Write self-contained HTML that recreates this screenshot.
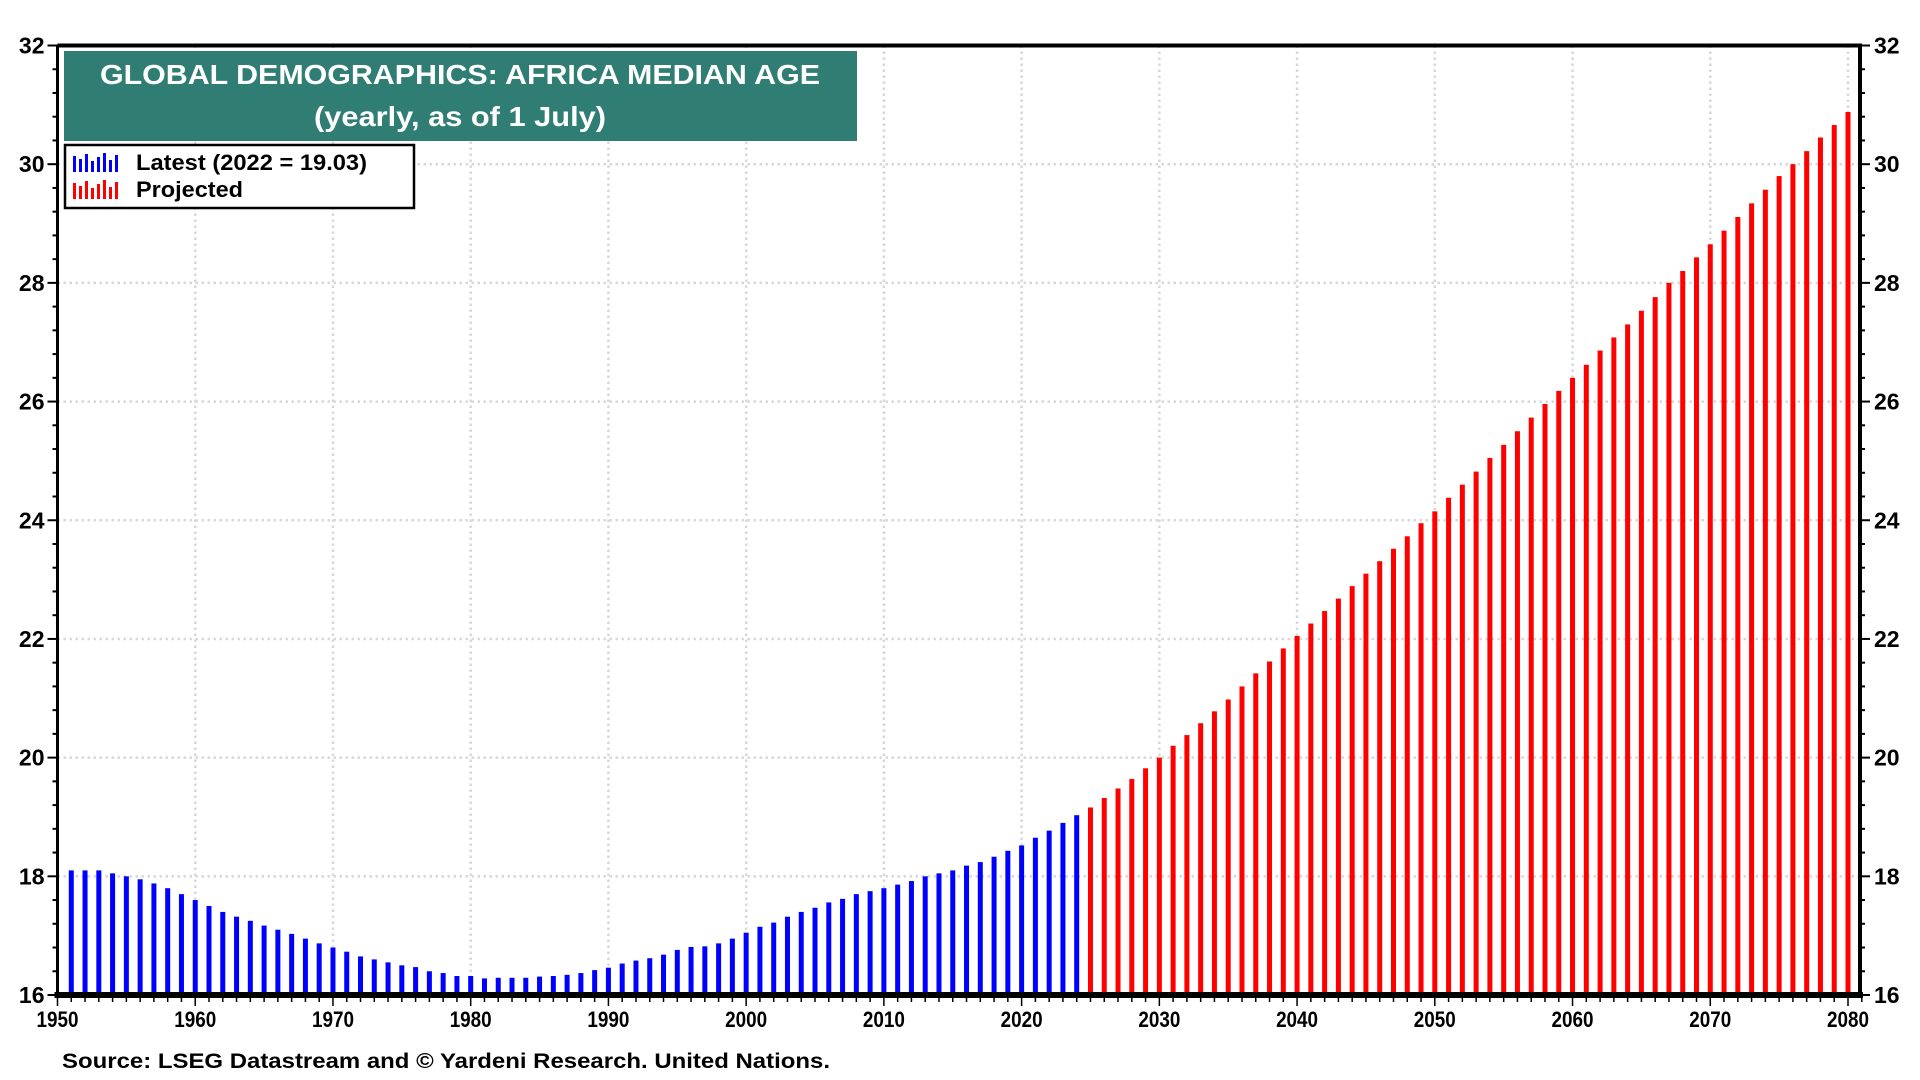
<!DOCTYPE html>
<html><head><meta charset="utf-8"><style>
body{margin:0;background:#fff;}
svg{display:block;font-family:"Liberation Sans",Arial,sans-serif;font-weight:bold;}
</style></head><body>
<svg id="chart" width="1920" height="1080" viewBox="0 0 1920 1080" xmlns="http://www.w3.org/2000/svg">
<g id="grid"></g>
<g id="bars"></g>
<g id="axes"></g>
<rect x="64" y="51" width="793" height="90" fill="#307e73"/>
<text x="460" y="84" font-size="28" fill="#fff" text-anchor="middle" textLength="720" lengthAdjust="spacingAndGlyphs">GLOBAL DEMOGRAPHICS: AFRICA MEDIAN AGE</text>
<text x="460" y="126" font-size="28" fill="#fff" text-anchor="middle" textLength="292" lengthAdjust="spacingAndGlyphs">(yearly, as of 1 July)</text>
<g>
<rect x="65" y="145" width="349" height="63" fill="#fff" stroke="#000" stroke-width="2.5"/>
<g id="legicons"></g>
<text x="136" y="170" font-size="22" textLength="231" lengthAdjust="spacingAndGlyphs">Latest (2022 = 19.03)</text>
<text x="136" y="197" font-size="22" textLength="107" lengthAdjust="spacingAndGlyphs">Projected</text>
</g>
<text x="62" y="1068" font-size="21" textLength="768" lengthAdjust="spacingAndGlyphs">Source: LSEG Datastream and © Yardeni Research. United Nations.</text>
</svg>
<script>
const histYears = [1951,1952,1953,1954,1955,1956,1957,1958,1959,1960,1961,1962,1963,1964,1965,1966,1967,1968,1969,1970,1971,1972,1973,1974,1975,1976,1977,1978,1979,1980,1981,1982,1983,1984,1985,1986,1987,1988,1989,1990,1991,1992,1993,1994,1995,1996,1997,1998,1999,2000,2001,2002,2003,2004,2005,2006,2007,2008,2009,2010,2011,2012,2013,2014,2015,2016,2017,2018,2019,2020,2021,2022,2023,2024];
const histValues = [18.1,18.1,18.1,18.05,18.0,17.95,17.88,17.8,17.7,17.6,17.5,17.4,17.32,17.25,17.17,17.1,17.03,16.95,16.87,16.8,16.73,16.65,16.6,16.55,16.5,16.47,16.4,16.37,16.32,16.32,16.28,16.29,16.29,16.29,16.31,16.32,16.34,16.37,16.42,16.46,16.53,16.58,16.62,16.68,16.76,16.81,16.82,16.87,16.95,17.05,17.15,17.22,17.32,17.4,17.47,17.56,17.62,17.7,17.75,17.8,17.86,17.92,18.0,18.05,18.1,18.18,18.24,18.33,18.43,18.52,18.65,18.77,18.9,19.03];
const projYears = [2025,2026,2027,2028,2029,2030,2031,2032,2033,2034,2035,2036,2037,2038,2039,2040,2041,2042,2043,2044,2045,2046,2047,2048,2049,2050,2051,2052,2053,2054,2055,2056,2057,2058,2059,2060,2061,2062,2063,2064,2065,2066,2067,2068,2069,2070,2071,2072,2073,2074,2075,2076,2077,2078,2079,2080];
const projValues = [19.16,19.32,19.48,19.64,19.82,20.0,20.2,20.38,20.58,20.78,20.98,21.2,21.42,21.62,21.84,22.05,22.26,22.47,22.68,22.89,23.1,23.31,23.52,23.73,23.95,24.15,24.38,24.6,24.82,25.05,25.27,25.5,25.73,25.96,26.18,26.4,26.62,26.86,27.08,27.3,27.53,27.76,28.0,28.2,28.43,28.65,28.88,29.11,29.34,29.57,29.8,30.0,30.22,30.45,30.66,30.88];
const yTicks = [16,18,20,22,24,26,28,30,32];
const xTicks = [1950,1960,1970,1980,1990,2000,2010,2020,2030,2040,2050,2060,2070,2080];

const NS='http://www.w3.org/2000/svg';
const L=57.5,R=1860,T=45.5,B=995;
const x=yr=>57.5+(yr-1950)*(1848-57.5)/130;
const y=v=>B-(v-16)*(B-T)/16;
function mk(tag,attrs,parent){const e=document.createElementNS(NS,tag);for(const k in attrs)e.setAttribute(k,attrs[k]);parent.appendChild(e);return e;}
const grid=document.getElementById('grid'),bars=document.getElementById('bars'),axes=document.getElementById('axes');

yTicks.forEach(v=>{if(v>16&&v<32){const g=mk('line',{x1:L,x2:R,y1:y(v),y2:y(v),stroke:'#d8d8d8','stroke-width':2.5,'stroke-dasharray':'2.5 3.5'},grid);

}});
xTicks.forEach(t=>{if(t>1950){const g=mk('line',{x1:x(t),x2:x(t),y1:T,y2:B,stroke:'#d8d8d8','stroke-width':2.5,'stroke-dasharray':'2.5 3.5'},grid);

}});

function drawBars(years,vals,color,name){years.forEach((yr,i)=>{const r=mk('rect',{x:x(yr)-2.5,y:y(vals[i]),width:5,height:B-y(vals[i]),fill:color},bars);

});}
drawBars(histYears,histValues,'#0000ff','bar-latest');
drawBars(projYears,projValues,'#ff0000','bar-projected');

mk('line',{x1:L,x2:L,y1:T,y2:B+3,stroke:'#000','stroke-width':3},axes);
mk('line',{x1:R,x2:R,y1:T,y2:B+3,stroke:'#000','stroke-width':4},axes);
mk('line',{x1:L,x2:R+2,y1:T,y2:T,stroke:'#000','stroke-width':4},axes);
mk('line',{x1:L-3,x2:R+3,y1:B,y2:B,stroke:'#000','stroke-width':6},axes);
for(let k=0;k<=40;k++){const v=16+k*0.4;const maj=Math.abs(v-Math.round(v))<1e-6&&Math.round(v)%2===0;const len=maj?10:5;
mk('line',{x1:L-len,x2:L,y1:y(v),y2:y(v),stroke:'#000','stroke-width':2},axes);
mk('line',{x1:R,x2:R+len,y1:y(v),y2:y(v),stroke:'#000','stroke-width':2},axes);}
yTicks.forEach(v=>{
const a=mk('text',{x:L-13,y:y(v)+8,'font-size':23,'text-anchor':'end'},axes);a.textContent=v;


const b=mk('text',{x:R+14,y:y(v)+8,'font-size':23},axes);b.textContent=v;

});
for(let yr=1950;yr<=2081;yr++){const maj=yr%10===0;mk('line',{x1:x(yr),x2:x(yr),y1:B,y2:B+(maj?11:7),stroke:'#000','stroke-width':1.5},axes);}
xTicks.forEach(t=>{const a=mk('text',{x:x(t),y:B+32,'font-size':22,'text-anchor':'middle',textLength:42,lengthAdjust:'spacingAndGlyphs'},axes);a.textContent=t;

});

const li=document.getElementById('legicons');
const ih=[16,13,18,11,15,19,12,17];
ih.forEach((h,i)=>{mk('rect',{x:73+i*6,y:172-h,width:3,height:h,fill:'#0000ff'},li);mk('rect',{x:73+i*6,y:199-h,width:3,height:h,fill:'#ff0000'},li);});
</script>
</body></html>
